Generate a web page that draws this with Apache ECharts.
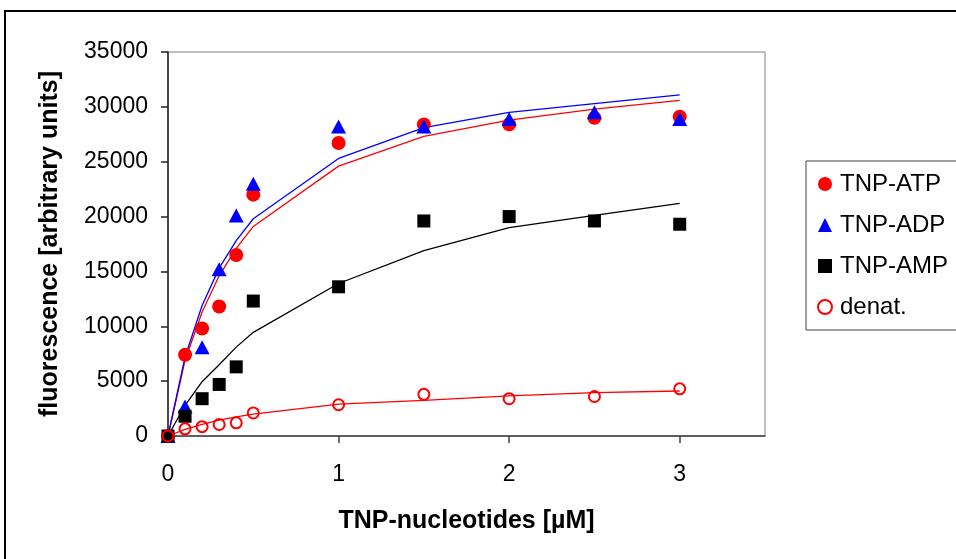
<!DOCTYPE html>
<html>
<head>
<meta charset="utf-8">
<script src="https://cdn.jsdelivr.net/npm/echarts@6/dist/echarts.min.js"></script>
<style>
  html, body { margin: 0; padding: 0; background: #fff; }
  #chart { width: 956px; height: 559px; }
</style>
</head>
<body>
<div id="chart"></div>
<script>
// Nucleotide concentrations (µM)
const concentrations = [0, 0.1, 0.2, 0.3, 0.4, 0.5, 1, 1.5, 2, 2.5, 3];

// Measured fluorescence (arbitrary units)
const tnpATP = [0, 7400, 9800, 11800, 16500, 22000, 26700, 28400, 28400, 29000, 29100];
const tnpADP = [0, 2700, 8100, 15200, 20100, 23000, 28200, 28200, 28900, 29500, 28900];
const tnpAMP = [0, 1800, 3400, 4700, 6300, 12300, 13600, 19600, 20000, 19600, 19300];
const denat  = [0, 650, 850, 1050, 1200, 2100, 2850, 3800, 3400, 3600, 4300];

// Fitted binding curves
const fitATP   = [0, 6900, 11300, 14600, 17100, 19100, 24600, 27300, 28800, 29800, 30600];
const fitADP   = [0, 7200, 11900, 15300, 17800, 19800, 25300, 28100, 29500, 30300, 31100];
const fitAMP   = [0, 2800, 4950, 6500, 8100, 9450, 13900, 16900, 19000, 20100, 21200];
const fitDenat = [0, 600, 1050, 1450, 1750, 2000, 2900, 3250, 3650, 3950, 4100];

// Axis ticks
const xTicks = [0, 1, 2, 3];
const yMax = 35000, yStep = 5000;

const pairs = ys => concentrations.map((x, i) => [x, ys[i]]);
const FONT = "'Liberation Sans', Arial, sans-serif";

const fitLine = (name, ys, color) => ({
  name, type: 'line', data: pairs(ys), showSymbol: false, symbol: 'none',
  lineStyle: { color, width: 1.3 }, z: 1, silent: true
});

const chart = echarts.init(document.getElementById('chart'), null, { renderer: 'canvas' });
chart.setOption({
  animation: false,
  backgroundColor: '#fff',
  textStyle: { fontFamily: FONT },
  graphic: [{
    type: 'rect', shape: { x: 5, y: 11, width: 1000, height: 600 },
    style: { fill: 'none', stroke: '#000', lineWidth: 2 }, silent: true, z: 0
  }],
  grid: {
    left: 168, top: 52, right: 191, bottom: 123,
    show: true, borderColor: '#808080', borderWidth: 1, backgroundColor: 'transparent'
  },
  legend: {
    orient: 'vertical', left: 806, top: 161,
    padding: [11, 30, 11, 11], itemGap: 17, itemWidth: 14, itemHeight: 14,
    borderColor: '#404040', borderWidth: 1, backgroundColor: '#fff',
    textStyle: { fontFamily: FONT, fontSize: 24, color: '#000', lineHeight: 24, padding: [0, 0, 0, 3] },
    data: ['TNP-ATP', 'TNP-ADP', 'TNP-AMP', 'denat.']
  },
  xAxis: {
    type: 'value', min: 0, max: 3.5, interval: 1,
    name: 'TNP-nucleotides [µM]', nameLocation: 'middle', nameGap: 85,
    nameTextStyle: { fontFamily: FONT, fontSize: 25, fontWeight: 'bold', color: '#000', verticalAlign: 'middle' },
    axisLine: { onZero: false, lineStyle: { color: '#404040', width: 1.5 } },
    axisTick: { show: true, length: 7, inside: false, customValues: xTicks, lineStyle: { color: '#404040', width: 1.5 } },
    axisLabel: { fontFamily: FONT, fontSize: 23, color: '#000', margin: 27, customValues: xTicks },
    splitLine: { show: false }
  },
  yAxis: {
    type: 'value', min: 0, max: yMax, interval: yStep,
    name: 'fluorescence [arbitrary units]', nameLocation: 'middle', nameGap: 118, nameRotate: 90,
    nameTextStyle: { fontFamily: FONT, fontSize: 25, fontWeight: 'bold', color: '#000', verticalAlign: 'middle' },
    axisLine: { show: true, onZero: false, lineStyle: { color: '#202020', width: 1.5 } },
    axisTick: { show: true, length: 7, inside: false, lineStyle: { color: '#202020', width: 1.5 } },
    axisLabel: { fontFamily: FONT, fontSize: 23, color: '#000', margin: 20, formatter: v => String(v) },
    splitLine: { show: false }
  },
  series: [
    fitLine('fit-ATP', fitATP, '#ff0000'),
    fitLine('fit-ADP', fitADP, '#0000ff'),
    fitLine('fit-AMP', fitAMP, '#000000'),
    fitLine('fit-denat', fitDenat, '#ff0000'),
    { name: 'TNP-ATP', type: 'scatter', data: pairs(tnpATP), symbol: 'circle', symbolSize: 14,
      itemStyle: { color: '#ff0000', opacity: 1 }, z: 3 },
    { name: 'TNP-ADP', type: 'scatter', data: pairs(tnpADP), symbol: 'triangle', symbolSize: [15, 14],
      itemStyle: { color: '#0000ff', opacity: 1 }, z: 3 },
    { name: 'TNP-AMP', type: 'scatter', data: pairs(tnpAMP), symbol: 'rect', symbolSize: 13,
      itemStyle: { color: '#000000', opacity: 1 }, z: 3 },
    { name: 'denat.', type: 'scatter', data: pairs(denat), symbol: 'circle', symbolSize: 11,
      itemStyle: { color: 'rgba(0,0,0,0)', borderColor: '#ff0000', borderWidth: 2, opacity: 1 }, z: 3 }
  ]
});
</script>
</body>
</html>
